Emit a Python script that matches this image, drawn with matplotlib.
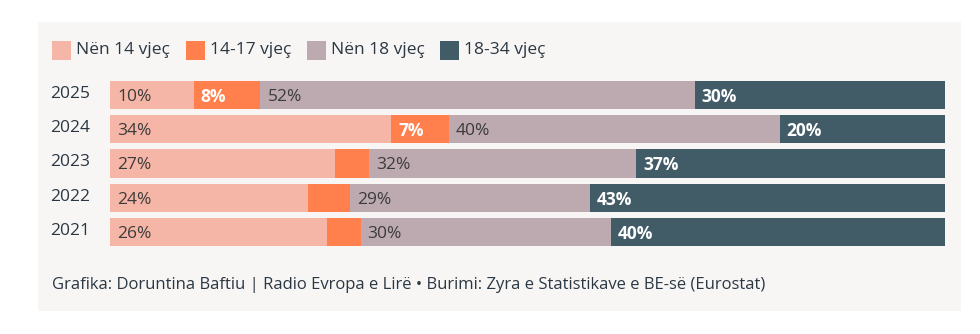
import numpy as np
import matplotlib
matplotlib.use("Agg")
import matplotlib.pyplot as plt
import matplotlib.transforms as mtransforms
from matplotlib.patches import Rectangle

plt.rcParams["font.family"] = ["Open Sans", "DejaVu Sans"]

years = ["2021", "2022", "2023", "2024", "2025"]
groups = ["Nën 14 vjeç", "14-17 vjeç", "Nën 18 vjeç", "18-34 vjeç"]
under14 = [26, 24, 27, 34, 10]
age14_17 = [4, 5, 4, 7, 8]
under18 = [30, 29, 32, 40, 52]
age18_34 = [40, 43, 37, 20, 30]
# only these years show the 14-17 label
show_14_17 = ["2024", "2025"]

colors = ["#f6b6a7", "#ff7f4d", "#bcaab0", "#415b67"]
text_dark = "#2b3743"
bg = "#f7f6f4"

series = np.array([under14, age14_17, under18, age18_34], dtype=float)
shares = series / series.sum(axis=0) * 100  # bars span full width

fig = plt.figure(figsize=(9.8, 3.34), dpi=100)
fig.patches.append(Rectangle((38 / 980, 1 - 311 / 334), (961 - 38) / 980, (311 - 22) / 334,
                             transform=fig.transFigure, facecolor=bg, edgecolor="none", zorder=-5))

ax = fig.add_axes([110 / 980, 0.2542, 835 / 980, 0.5126])
ax.set_zorder(3)
ax.set_facecolor("none")
y = np.arange(len(years))
left = np.zeros(len(years))
for i in range(len(groups)):
    ax.barh(y, shares[i], left=left, height=0.82, color=colors[i], edgecolor="none")
    for j in range(len(years)):
        if i == 1 and years[j] not in show_14_17:
            continue
        light = i in (1, 3)
        ax.text(left[j] + 0.85, y[j], f"{int(series[i][j])}%", va="center_baseline", ha="left",
                fontsize=12.5, color="white" if light else "#3b3b3b",
                fontweight="bold" if light else "normal")
    left += shares[i]

ax.set_xlim(0, 100)
ax.set_ylim(-0.5, len(years) - 0.5)
ax.set_yticks(y)
ax.set_yticklabels(years, fontsize=12.5, color=text_dark)
ax.tick_params(axis="y", length=0, pad=14)
# nudge year labels up a little
shift = mtransforms.ScaledTranslation(0, 3 / 100, fig.dpi_scale_trans)
for lbl in ax.get_yticklabels():
    lbl.set_transform(lbl.get_transform() + shift)
ax.set_xticks([])
for s in ax.spines.values():
    s.set_visible(False)

# legend row
leg_x = [52, 186, 307, 440]
for x0, lab, c in zip(leg_x, groups, colors):
    fig.patches.append(Rectangle((x0 / 980, 1 - 59.5 / 334), 19 / 980, 19 / 334,
                                 transform=fig.transFigure, facecolor=c, edgecolor="none"))
    fig.text((x0 + 24) / 980, 1 - 49.5 / 334, lab, fontsize=12.5, color=text_dark,
             va="center", ha="left")

fig.text(52 / 980, 1 - 285 / 334,
         "Grafika: Doruntina Baftiu | Radio Evropa e Lirë • Burimi: Zyra e Statistikave e BE-së (Eurostat)",
         fontsize=12, color=text_dark, va="center", ha="left")

fig.savefig("out.png", dpi=100, facecolor="white")
